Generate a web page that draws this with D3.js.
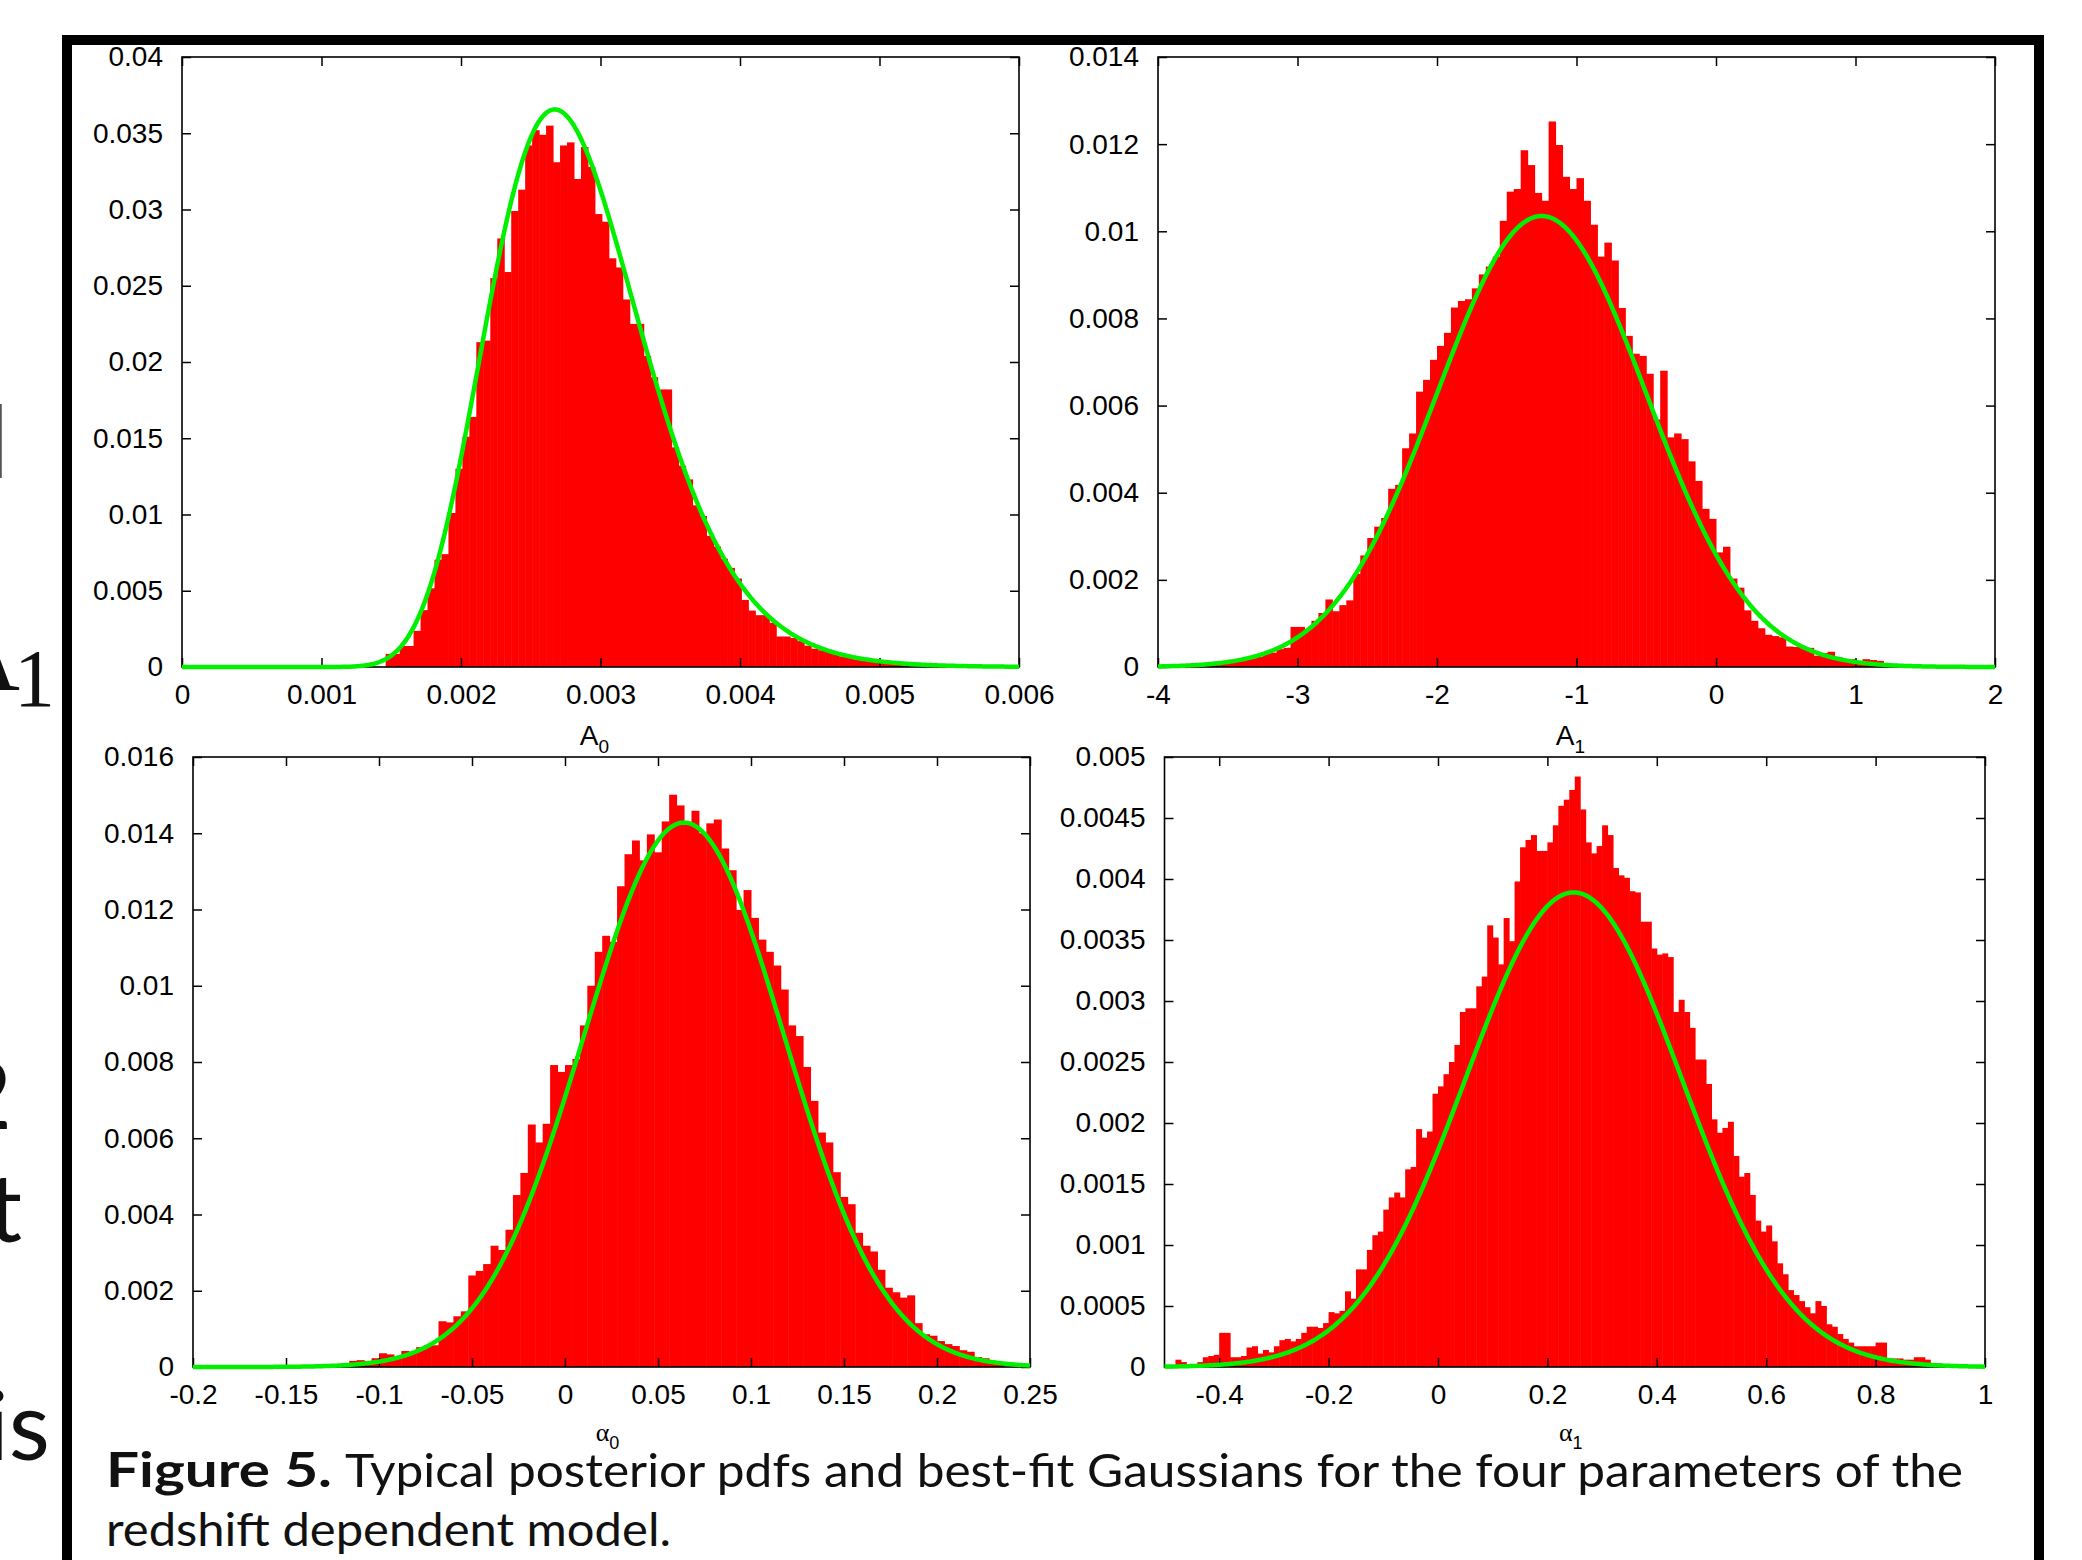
<!DOCTYPE html>
<html>
<head>
<meta charset="utf-8">
<style>
  body { margin: 0; background: #fff; }
  svg text { font-family: "Liberation Sans", Arial, sans-serif; }
</style>
</head>
<body>
<svg id="fig" width="2082" height="1560"></svg>
<script src="https://cdn.jsdelivr.net/npm/d3@7"></script>
<script>
// histogram heights, read bin by bin off the figure
const histA0 = [
  0.00086, 0.00086, 0.00138, 0.00138, 0.00237, 0.00373, 0.00516, 0.00704, 0.0074, 0.0101,
  0.0130, 0.0151, 0.0164, 0.0213, 0.0214, 0.0255, 0.0281, 0.0259, 0.0299, 0.0313,
  0.0342, 0.0352, 0.0349, 0.0355, 0.0331, 0.0342, 0.0344, 0.0320, 0.0341, 0.0328,
  0.0297, 0.0292, 0.0268, 0.0262, 0.0241, 0.0225, 0.0225, 0.0204, 0.0190, 0.0182,
  0.0182, 0.0144, 0.0132, 0.0123, 0.0106, 0.0099, 0.0086, 0.0079, 0.0071, 0.0065,
  0.0058, 0.0044, 0.0037, 0.0034, 0.0034, 0.0029, 0.0020, 0.0020, 0.0019, 0.0017,
  0.0014, 0.0012, 0.0011, 0.0010, 0.0009, 0.0007, 0.0006, 0.0005, 0.0005, 0.0004,
  0.0003, 0.0003, 0.0002, 0.0002, 0.0001
];
const histA1 = [
  0.00007, 0.00007, 0.00012, 0.0001, 0.00012, 0.00014, 0.0002, 0.0002, 0.00023, 0.00033,
  0.00033, 0.00041, 0.00044, 0.00092, 0.00092, 0.00087, 0.00106, 0.00124, 0.00155, 0.00128,
  0.00142, 0.00153, 0.00214, 0.00256, 0.00296, 0.00322, 0.00342, 0.00409, 0.00418, 0.00502,
  0.00536, 0.00632, 0.00659, 0.00705, 0.00737, 0.00767, 0.00825, 0.0084, 0.00844, 0.00869,
  0.00901, 0.00919, 0.00942, 0.01024, 0.01091, 0.01097, 0.01186, 0.01152, 0.01088, 0.0107,
  0.01252, 0.01198, 0.01125, 0.01097, 0.01122, 0.0107, 0.01015, 0.00942, 0.00974, 0.00933,
  0.00824, 0.0076, 0.00719, 0.00714, 0.00673, 0.00568, 0.0068, 0.00527, 0.00536, 0.00523,
  0.00472, 0.00427, 0.00363, 0.0034, 0.00263, 0.00276, 0.00203, 0.00182, 0.0013, 0.00106,
  0.00089, 0.00074, 0.00071, 0.00068, 0.00047, 0.00046, 0.00046, 0.00044, 0.00026, 0.00032,
  0.00035, 0.00023, 0.00014, 0.00018, 0.00012, 0.00018, 0.00016, 0.00014, 0.00007, 0.00005
];
const histAlpha0 = [
  0.0001, 0.00016, 0.00018, 0.00016, 0.00023, 0.00036, 0.00033, 0.00023, 0.00042, 0.0004,
  0.00052, 0.00057, 0.00057, 0.0012, 0.00117, 0.00133, 0.00146, 0.0024, 0.00252, 0.0027,
  0.00318, 0.00307, 0.0036, 0.00451, 0.00509, 0.00636, 0.00589, 0.00638, 0.00792, 0.00774,
  0.00792, 0.00808, 0.00896, 0.01, 0.01089, 0.01131, 0.01115, 0.01261, 0.01345, 0.01381,
  0.01329, 0.01397, 0.0135, 0.01431, 0.01501, 0.01473, 0.01426, 0.01459, 0.014, 0.01426,
  0.01436, 0.0136, 0.01303, 0.01199, 0.01251, 0.01178, 0.01121, 0.01089, 0.01053, 0.0099,
  0.00896, 0.00868, 0.00787, 0.00698, 0.00615, 0.00589, 0.00511, 0.00446, 0.00427, 0.00352,
  0.00318, 0.00303, 0.00255, 0.00208, 0.00196, 0.00182, 0.00188, 0.00115, 0.00086, 0.00082,
  0.00068, 0.0006, 0.00055, 0.00044, 0.0004, 0.00026, 0.00023, 0.00016, 0.0001
];
const histAlpha1 = [
  0.00006, 0.00004, 0.00002, 0.00002, 0.00004, 0.00008, 0.00009, 0.0001, 0.00028, 0.00028,
  0.00008, 0.00008, 0.00009, 0.00016, 0.00017, 0.00011, 0.00014, 0.00012, 0.00017, 0.00022,
  0.00023, 0.00021, 0.00023, 0.00028, 0.00033, 0.00033, 0.00032, 0.00036, 0.00045, 0.00044,
  0.00046, 0.00062, 0.00056, 0.0008, 0.0008, 0.00096, 0.00108, 0.00111, 0.00129, 0.00139,
  0.00143, 0.00139, 0.00162, 0.00164, 0.00195, 0.00188, 0.00193, 0.00224, 0.0023, 0.0024,
  0.0025, 0.00264, 0.00291, 0.00294, 0.00294, 0.00312, 0.0032, 0.00362, 0.00352, 0.0033,
  0.00368, 0.00349, 0.00398, 0.00426, 0.00432, 0.00436, 0.00423, 0.00423, 0.0043, 0.00444,
  0.0046, 0.00465, 0.00473, 0.00484, 0.00457, 0.0043, 0.00421, 0.00427, 0.00444, 0.00436,
  0.00409, 0.00403, 0.00401, 0.0039, 0.00389, 0.00365, 0.00365, 0.00343, 0.00338, 0.00339,
  0.00336, 0.00291, 0.00301, 0.00291, 0.00278, 0.00252, 0.00252, 0.00232, 0.00203, 0.00192,
  0.00196, 0.00201, 0.00173, 0.00156, 0.00159, 0.00141, 0.0012, 0.00111, 0.00116, 0.00103,
  0.00085, 0.00076, 0.00063, 0.00059, 0.00054, 0.00049, 0.00044, 0.00054, 0.0005, 0.00035,
  0.00033, 0.00027, 0.00023, 0.0002, 0.00017, 0.00017, 0.00017, 0.00017, 0.0002, 0.0002,
  0.00007, 0.00007, 0.00007, 0.00006, 0.00006, 0.00008, 0.00008, 0.00006, 0.00003, 0.00003
];
const binStart = [0.00146, -3.70, -0.120, -0.480];
const binWidth = [0.00005, 0.05, 0.004, 0.01];

// best-fit gaussians: peak, centre, sigma (the A0 one is gaussian in ln A0)
const fitPeak = [0.03656, 0.01035, 0.01428, 0.00389];
const fitCentre = [0.002672, -1.25, 0.064, 0.248];
const fitSigma = [0.207, 0.75, 0.054, 0.198];

const xDomains = [[0, 0.006], [-4, 2], [-0.2, 0.25], [-0.5, 1]];
const yDomains = [[0, 0.04], [0, 0.014], [0, 0.016], [0, 0.005]];
const xTickLabels = [
  ["0", "0.001", "0.002", "0.003", "0.004", "0.005", "0.006"],
  ["-4", "-3", "-2", "-1", "0", "1", "2"],
  ["-0.2", "-0.15", "-0.1", "-0.05", "0", "0.05", "0.1", "0.15", "0.2", "0.25"],
  ["-0.4", "-0.2", "0", "0.2", "0.4", "0.6", "0.8", "1"]
];
const yTickLabels = [
  ["0", "0.005", "0.01", "0.015", "0.02", "0.025", "0.03", "0.035", "0.04"],
  ["0", "0.002", "0.004", "0.006", "0.008", "0.01", "0.012", "0.014"],
  ["0", "0.002", "0.004", "0.006", "0.008", "0.01", "0.012", "0.014", "0.016"],
  ["0", "0.0005", "0.001", "0.0015", "0.002", "0.0025", "0.003", "0.0035", "0.004", "0.0045", "0.005"]
];
const axisNames = [["A", "0"], ["A", "1"], ["\u03b1", "0"], ["\u03b1", "1"]];

// layout
const frames = [
  {l: 182, r: 1019, t: 57, b: 667},
  {l: 1158, r: 1995, t: 57, b: 667},
  {l: 193, r: 1030, t: 757, b: 1367},
  {l: 1164.5, r: 1985, t: 757, b: 1367}
];
const hists = [histA0, histA1, histAlpha0, histAlpha1];

const svg = d3.select("#fig");

// cut-off slide text at the left edge
const side = svg.append("g").attr("fill", "#111");
side.append("text").attr("x", 9).attr("y", 478).attr("text-anchor", "end")
  .style("font-family", "Lato").attr("font-size", 100).attr("fill", "#555").text("l");
side.append("text").attr("x", 20).attr("y", 690).attr("text-anchor", "end")
  .style("font-family", "Liberation Serif").attr("font-size", 110).text("A");
side.append("text").attr("x", 14).attr("y", 706)
  .style("font-family", "Liberation Serif").attr("font-size", 82).text("1");
side.append("text").attr("x", 12).attr("y", 1129).attr("text-anchor", "end")
  .style("font-family", "Lato").attr("font-size", 95).text("2");
side.append("text").attr("x", 22).attr("y", 1242).attr("text-anchor", "end")
  .style("font-family", "Lato").attr("font-size", 95).text("t");
side.append("text").attr("x", 50).attr("y", 1460).attr("text-anchor", "end")
  .style("font-family", "Lato").attr("font-size", 95).text("is");

// slide border
svg.append("rect").attr("x", 62).attr("y", 35).attr("width", 1982).attr("height", 10).attr("fill", "#000");
svg.append("rect").attr("x", 62).attr("y", 35).attr("width", 10).attr("height", 1525).attr("fill", "#000");
svg.append("rect").attr("x", 2034).attr("y", 35).attr("width", 10).attr("height", 1525).attr("fill", "#000");

function fitValue(p, v) {
  if (p === 0) {
    if (v <= 0) return 0;
    const z = Math.log(v / fitCentre[0]) / fitSigma[0];
    return fitPeak[0] * Math.exp(-0.5 * z * z);
  }
  const z = (v - fitCentre[p]) / fitSigma[p];
  return fitPeak[p] * Math.exp(-0.5 * z * z);
}

frames.forEach((f, p) => {
  const x = d3.scaleLinear().domain(xDomains[p]).range([f.l, f.r]);
  const y = d3.scaleLinear().domain(yDomains[p]).range([f.b, f.t]);
  const g = svg.append("g");

  // bars
  g.append("g").selectAll("rect").data(hists[p]).join("rect")
    .attr("x", (d, i) => x(binStart[p] + i * binWidth[p]))
    .attr("width", (d, i) => x(binStart[p] + (i + 1) * binWidth[p]) - x(binStart[p] + i * binWidth[p]) + 0.5)
    .attr("y", d => y(d))
    .attr("height", d => y(0) - y(d))
    .attr("fill", "#ff0000");

  // frame
  g.append("rect").attr("x", f.l).attr("y", f.t)
    .attr("width", f.r - f.l).attr("height", f.b - f.t)
    .attr("fill", "none").attr("stroke", "#000").attr("stroke-width", 1.6);

  const xt = xTickLabels[p].map(Number);
  const yt = yTickLabels[p].map(Number);
  const style = a => {
    a.select(".domain").remove();
    a.attr("font-size", 28).attr("font-family", "Liberation Sans, Arial, sans-serif");
    a.selectAll("line").attr("stroke", "#000").attr("stroke-width", 1.5);
    a.selectAll("text").attr("fill", "#000");
  };

  g.append("g").attr("transform", `translate(0,${f.b})`)
    .call(d3.axisBottom(x).tickValues(xt).tickFormat((d, i) => xTickLabels[p][i])
      .tickSizeInner(-9).tickSizeOuter(0).tickPadding(17)).call(style);
  g.append("g").attr("transform", `translate(0,${f.t})`)
    .call(d3.axisTop(x).tickValues(xt).tickFormat("")
      .tickSizeInner(-9).tickSizeOuter(0)).call(style);
  g.append("g").attr("transform", `translate(${f.l},0)`)
    .call(d3.axisLeft(y).tickValues(yt).tickFormat((d, i) => yTickLabels[p][i])
      .tickSizeInner(-9).tickSizeOuter(0).tickPadding(19)).call(style);
  g.append("g").attr("transform", `translate(${f.r},0)`)
    .call(d3.axisRight(y).tickValues(yt).tickFormat("")
      .tickSizeInner(-9).tickSizeOuter(0)).call(style);

  // fitted curve
  const xs = d3.range(0, 601).map(i => xDomains[p][0] + (xDomains[p][1] - xDomains[p][0]) * i / 600);
  const line = d3.line().x(v => x(v)).y(v => y(fitValue(p, v)));
  g.append("path").datum(xs).attr("d", line)
    .attr("fill", "none").attr("stroke", "#00f000").attr("stroke-width", 4.5)
    .attr("stroke-linejoin", "round");

  // axis title
  const cx = (f.l + f.r) / 2;
  if (p < 2) {
    const t = g.append("text").attr("x", cx - 6).attr("y", f.b + 78)
      .attr("text-anchor", "middle").attr("font-size", 28);
    t.append("tspan").text(axisNames[p][0]);
    t.append("tspan").attr("font-size", 19).attr("dy", 8).text(axisNames[p][1]);
  } else {
    const t = g.append("text").attr("x", cx - 4).attr("y", f.b + 74)
      .attr("text-anchor", "middle");
    t.append("tspan").style("font-family", "Liberation Serif").attr("font-size", 26).text(axisNames[p][0]);
    t.append("tspan").attr("font-size", 18).attr("dy", 8).text(axisNames[p][1]);
  }
});

// caption
svg.append("text").attr("x", 106).attr("y", 1487)
  .style("font-family", "Lato").attr("font-weight", 700).attr("font-size", 47)
  .attr("textLength", 226).attr("lengthAdjust", "spacingAndGlyphs")
  .attr("fill", "#111").text("Figure 5.");
svg.append("text").attr("x", 345).attr("y", 1487)
  .style("font-family", "Lato").attr("font-size", 47)
  .attr("textLength", 1618).attr("lengthAdjust", "spacingAndGlyphs")
  .attr("fill", "#111").text("Typical posterior pdfs and best-fit Gaussians for the four parameters of the");
svg.append("text").attr("x", 106).attr("y", 1546)
  .style("font-family", "Lato").attr("font-size", 47)
  .attr("textLength", 565).attr("lengthAdjust", "spacingAndGlyphs")
  .attr("fill", "#111").text("redshift dependent model.");
</script>
</body>
</html>
